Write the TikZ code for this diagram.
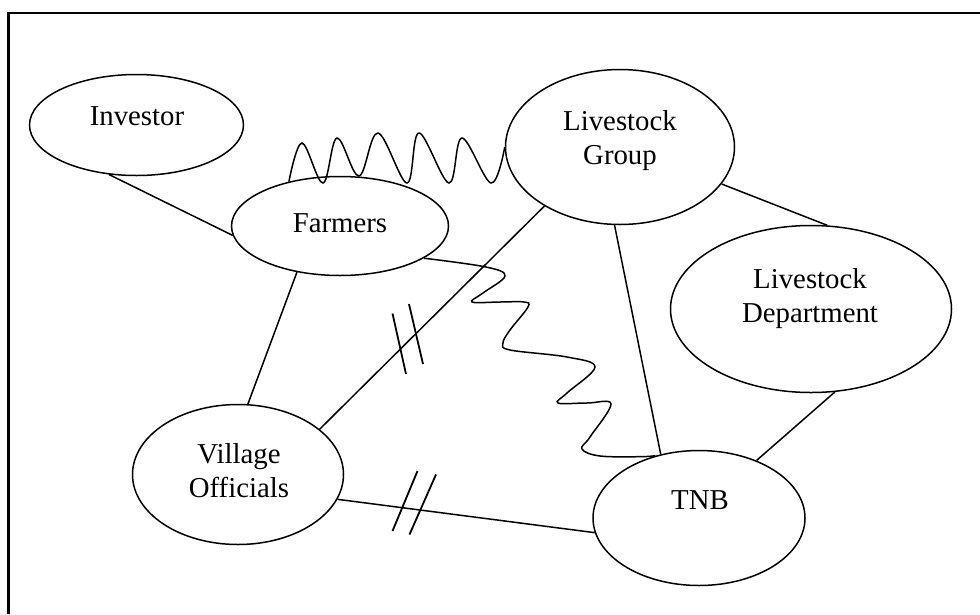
\documentclass[tikz,border=0pt]{standalone}
\usepackage{fontspec}
\setmainfont{Liberation Serif}
\usetikzlibrary{shapes.geometric}
\begin{document}
\begin{tikzpicture}[x=1pt,y=-1pt,
  oval/.style={draw, ellipse, line width=1.5pt, inner sep=0pt},
  lbl/.style={font=\fontsize{28.8}{34}\selectfont, inner sep=0pt, align=center, anchor=base},
  link/.style={line width=1.5pt},
  tick/.style={line width=1.8pt},
  frameline/.style={line width=2.2pt}]
\useasboundingbox (0,0) rectangle (980,614);
\coordinate (fbl) at (8.5,614);
\coordinate (ftl) at (8.5,13);
\coordinate (ftr) at (980,13);
\draw[frameline] (fbl) -- (ftl) -- (ftr);

% ellipses
\node[oval, minimum width=214pt, minimum height=101pt] (inv) at (136.5,125) {};
\node[oval, minimum width=217pt, minimum height=99pt]  (far) at (340,226) {};
\node[oval, minimum width=229pt, minimum height=155pt] (lg)  at (620,147) {};
\node[oval, minimum width=281pt, minimum height=167pt] (ld)  at (811,309) {};
\node[oval, minimum width=211pt, minimum height=140pt] (vil) at (238,474.5) {};
\node[oval, minimum width=212pt, minimum height=135pt] (tnb) at (699,518) {};

% labels (base = baseline of last line)
\node[lbl] (invt) at (137,125) {Investor};
\node[lbl] (fart) at (340,232) {Farmers};
\node[lbl] (lgt)  at (620,164) {Livestock\\Group};
\node[lbl] (ldt)  at (810,322) {Livestock\\Department};
\node[lbl] (vilt) at (239,497) {Village\\Officials};
\node[lbl] (tnbt) at (700,509) {TNB};

% straight connectors
\draw[link] (inv.241) -- (far.185);
\draw[link] (far.227) -- (vil.82);
\draw[link] (vil.29) -- (lg.218);
\draw[link] (lg.266) -- (tnb.121);
\draw[link] (lg.340) -- (ld.79);
\draw[link] (ld.286) -- (tnb.45);
\draw[link] (vil.346) -- (tnb.188);

% wavy connectors
\draw[link] plot[smooth, tension=0.6] coordinates {(far.139) (302,143) (323,183) (337,138) (359,176) (378,133) (407,183) (419,133) (449,183) (462,138) (491,183) (lg.west)};
\draw[link] plot[smooth, tension=0.6] coordinates {(far.339) (486,267) (505,276) (483,293) (472,302) (500,302) (524,302) (528,307) (510,330) (503,343) (510,350) (567,357) (595,367) (567,393) (558,403) (587,403) (611,404) (590,437) (582,449) (600,456) (640,456.7) (tnb.125)};

% double ticks
\coordinate (ta1) at (392.5,313.5);
\coordinate (ta2) at (406,374);
\coordinate (tb1) at (409,304);
\coordinate (tb2) at (423,364);
\draw[tick] (ta1) -- (ta2);
\draw[tick] (tb1) -- (tb2);
\coordinate (tc1) at (392.5,531);
\coordinate (tc2) at (417.5,471);
\coordinate (td1) at (409.5,534.5);
\coordinate (td2) at (436,474.5);
\draw[tick] (tc1) -- (tc2);
\draw[tick] (td1) -- (td2);
\end{tikzpicture}
\end{document}
